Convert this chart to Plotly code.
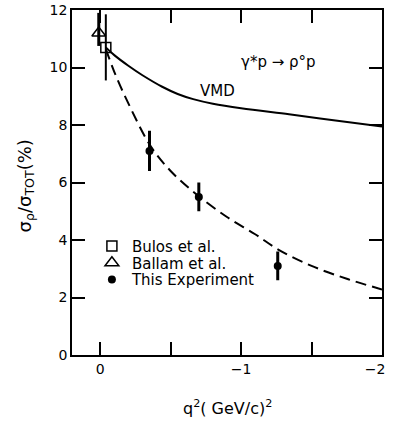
import plotly.graph_objects as go

# Data
q_exp = [-0.35, -0.70, -1.26]
r_exp = [7.1, 5.5, 3.1]
e_exp = [0.7, 0.5, 0.5]

q_bulos = [-0.04]
r_bulos = [10.7]
e_bulos = [1.15]

q_ballam = [0.01]
r_ballam = [11.2]
e_ballam_plus = [0.7]
e_ballam_minus = [0.45]

q_vmd = [-0.04, -0.1, -0.2, -0.3, -0.44, -0.55, -0.66, -0.8, -1.0, -1.34, -1.67, -2.0]
r_vmd = [10.7, 10.43, 10.06, 9.73, 9.33, 9.08, 8.9, 8.74, 8.58, 8.37, 8.16, 7.95]

q_fit = [-0.04, -0.1, -0.2, -0.36, -0.5, -0.68, -0.9, -1.1, -1.27, -1.5, -1.75, -2.0]
r_fit = [10.65, 9.85, 8.75, 7.25, 6.4, 5.6, 4.8, 4.2, 3.65, 3.1, 2.65, 2.28]

x_tickvals = [0, -0.5, -1, -1.5, -2]
x_ticktext = ["0", " ", "\u22121", " ", "\u22122\u2002\u2002"]
y_tickvals = [0, 2, 4, 6, 8, 10, 12]

FONT = "DejaVu Sans, Liberation Sans, sans-serif"

fig = go.Figure()
fig.add_trace(go.Scatter(x=q_vmd, y=r_vmd, mode="lines", line=dict(color="black", width=2, shape="spline"),
                         showlegend=False, hoverinfo="skip"))
fig.add_trace(go.Scatter(x=q_fit, y=r_fit, mode="lines",
                         line=dict(color="black", width=2, dash="11px,6px", shape="spline"),
                         showlegend=False, hoverinfo="skip"))
fig.add_trace(go.Scatter(x=q_bulos, y=r_bulos, mode="markers", name="Bulos et al.", legend="legend",
                         marker=dict(symbol="square-open", size=10, color="black", line=dict(width=1.5)),
                         error_y=dict(type="data", array=e_bulos, color="black", thickness=2, width=0)))
fig.add_trace(go.Scatter(x=q_ballam, y=r_ballam, mode="markers", name="Ballam et al.", legend="legend2",
                         marker=dict(symbol="triangle-up-open", size=12, color="black", line=dict(width=1.5)),
                         error_y=dict(type="data", array=e_ballam_plus, arrayminus=e_ballam_minus,
                                      color="black", thickness=3, width=0)))
fig.add_trace(go.Scatter(x=q_exp, y=r_exp, mode="markers", name="This Experiment", legend="legend3",
                         marker=dict(symbol="circle", size=8, color="black"),
                         error_y=dict(type="data", array=e_exp, color="black", thickness=3, width=0)))

axis_common = dict(showline=True, linecolor="black", linewidth=1.5, mirror="ticks",
                   ticks="inside", ticklen=13, tickwidth=2, tickcolor="black",
                   showgrid=False, zeroline=False, ticklabeloverflow="allow",
                   tickfont=dict(family=FONT, size=14, color="black"))

fig.update_xaxes(range=[0.2, -2.0], tickmode="array", tickvals=x_tickvals, ticktext=x_ticktext,
                 **axis_common)
fig.update_yaxes(range=[0, 12], tickmode="array", tickvals=y_tickvals,
                 **axis_common)

fig.add_annotation(text="\u03b3*p \u2192 \u03c1\u00b0p", xref="paper", yref="paper",
                   x=(290 - 72) / 327, y=(355 - 59) / 349, showarrow=False,
                   xanchor="center", yanchor="middle",
                   font=dict(family=FONT, size=15, color="black"))
fig.add_annotation(text="VMD", xref="paper", yref="paper",
                   x=(226 - 72) / 327, y=(355 - 88) / 349, showarrow=False,
                   xanchor="center", yanchor="middle",
                   font=dict(family=FONT, size=15, color="black"))
fig.add_annotation(text="\u03c3<sub>\u03c1</sub>/\u03c3<sub>TOT</sub>(%)", xref="paper", yref="paper",
                   x=(23 - 72) / 327, y=(355 - 184) / 349, showarrow=False, textangle=-90,
                   xanchor="center", yanchor="middle",
                   font=dict(family=FONT, size=18, color="black"))
fig.add_annotation(text="q<sup>2</sup>( GeV/c)<sup>2</sup>", xref="paper", yref="paper",
                   x=(236 - 72) / 327, y=(355 - 408) / 349, showarrow=False,
                   xanchor="center", yanchor="middle",
                   font=dict(family=FONT, size=16, color="black"))

leg_common = dict(x=(93 - 72) / 327, xanchor="left", yanchor="middle",
                  bgcolor="rgba(0,0,0,0)", font=dict(family=FONT, size=15, color="black"),
                  itemwidth=30)

fig.update_layout(
    width=401, height=421,
    margin=dict(l=72, r=2, t=6, b=66),
    paper_bgcolor="white", plot_bgcolor="white",
    showlegend=True,
    legend=dict(y=(355 - 245) / 349, **leg_common),
    legend2=dict(y=(355 - 262) / 349, **leg_common),
    legend3=dict(y=(355 - 279) / 349, **leg_common),
)

fig.write_html("out.html", config={"displayModeBar": False},
               post_script="document.body.style.margin='0';")
